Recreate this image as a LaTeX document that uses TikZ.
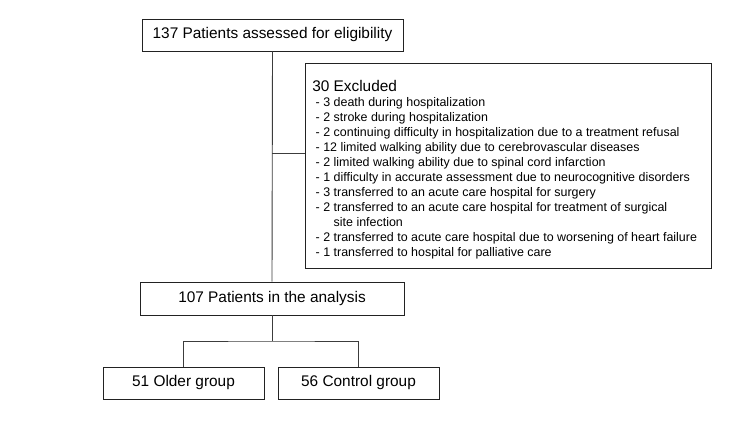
\documentclass[tikz,border=0pt]{standalone}
\usepackage{fontspec}
\setmainfont{Liberation Sans}
\usepackage{tikz}
\usetikzlibrary{positioning,calc}
\definecolor{boxline}{RGB}{34,34,34}
\definecolor{linkline}{RGB}{60,60,60}
\tikzset{
  box/.style   ={rectangle, draw=boxline, line width=0.9pt, fill=white, align=center,
                 inner sep=2pt, font=\fontsize{15.4}{17}\selectfont},
  listbox/.style={rectangle, draw=boxline, line width=0.9pt, fill=white,
                 minimum width=406pt, minimum height=205pt},
  listtext/.style={align=left, inner sep=0pt, font=\fontsize{12.45}{15}\selectfont},
  link/.style  ={draw=linkline, line width=0.9pt}
}

\begin{document}
\begin{tikzpicture}[x=1pt, y=-1pt]
\useasboundingbox (0,0) rectangle (750,422);
% Boxes
\node[box, minimum width=261pt, minimum height=32pt] (assessed) at (272.5,35) {137 Patients assessed for eligibility};
\node[listbox] (excluded) at (508,165.5) {};
\node[listtext, anchor=north west] (reasons) at ([xshift=7.5pt,yshift=-17.5pt]excluded.north west) {%
  {\fontsize{15.4}{16}\selectfont 30 Excluded}\\[0pt]
  \ - 3 death during hospitalization\\
  \ - 2 stroke during hospitalization\\
  \ - 2 continuing difficulty in hospitalization due to a treatment refusal\\
  \ - 12 limited walking ability due to cerebrovascular diseases\\
  \ - 2 limited walking ability due to spinal cord infarction\\
  \ - 1 difficulty in accurate assessment due to neurocognitive disorders\\
  \ - 3 transferred to an acute care hospital for surgery\\
  \ - 2 transferred to an acute care hospital for treatment of surgical\\
  \ \hphantom{- 2 }site infection\\
  \ - 2 transferred to acute care hospital due to worsening of heart failure\\
  \ - 1 transferred to hospital for palliative care};
\node[box, minimum width=264pt, minimum height=33pt] (analysis) at (272,298.5) {107 Patients in the analysis};
\node[box, minimum width=161pt, minimum height=32pt] (older) at (183.5,383) {51 Older group};
\node[box, minimum width=161pt, minimum height=32pt] (control) at (358.5,383) {56 Control group};
% Connectors
\coordinate (branch) at (272,153);
\coordinate (split) at (272,341);
\draw[link] (assessed.south) -- (analysis.north);
\draw[link] (branch) -- (branch -| excluded.west);
\draw[link] (analysis.south) -- (split);
\draw[link] (older.north) |- (split) -| (control.north);
\end{tikzpicture}
\end{document}
